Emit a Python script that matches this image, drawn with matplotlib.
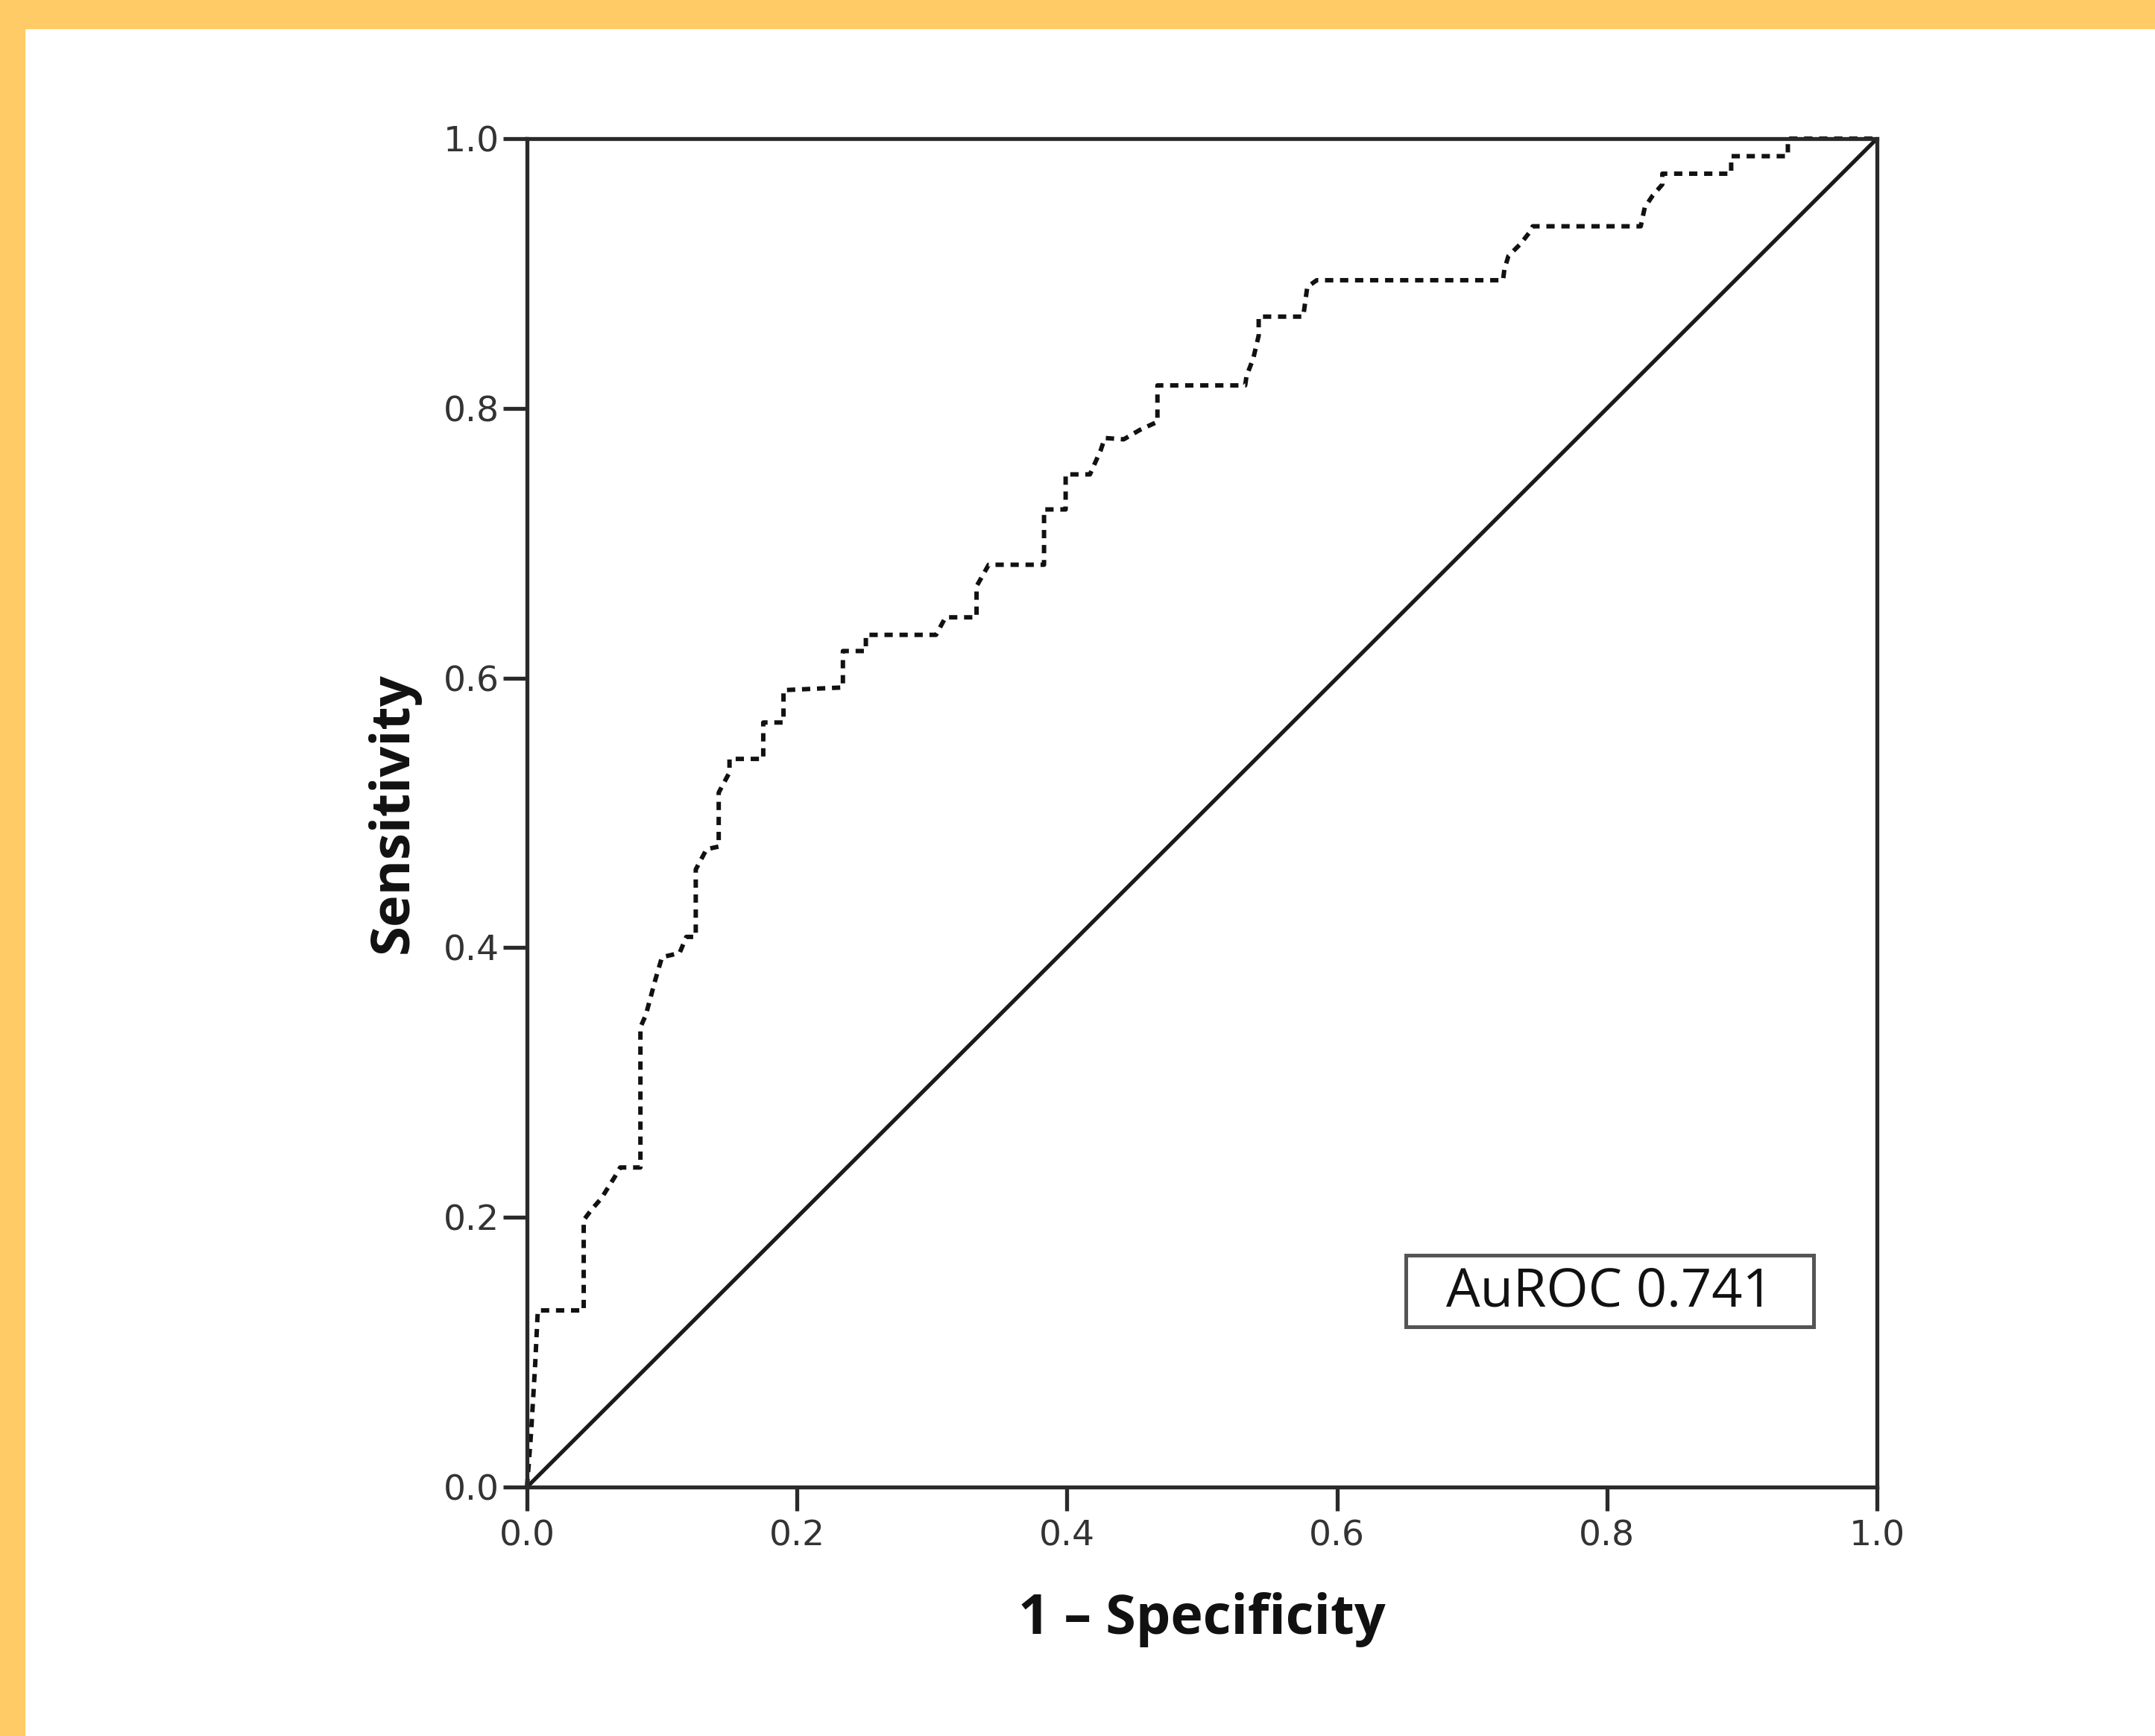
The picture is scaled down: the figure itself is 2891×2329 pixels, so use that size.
import matplotlib
matplotlib.use("Agg")
import matplotlib.pyplot as plt
from matplotlib.patches import Rectangle

# -----------------------------
# DATA
# -----------------------------
fpr = [0.000, 0.003, 0.006, 0.008, 0.042, 0.042, 0.048, 0.055, 0.060, 0.065,
       0.069, 0.084, 0.084, 0.088, 0.095, 0.100, 0.113, 0.118, 0.125, 0.125,
       0.133, 0.142, 0.142, 0.150, 0.150, 0.175, 0.175, 0.190, 0.190, 0.234,
       0.234, 0.251, 0.251, 0.303, 0.310, 0.333, 0.333, 0.342, 0.383, 0.383,
       0.399, 0.399, 0.417, 0.425, 0.428, 0.442, 0.454, 0.467, 0.467, 0.532,
       0.533, 0.538, 0.542, 0.542, 0.575, 0.578, 0.585, 0.723, 0.724, 0.727,
       0.736, 0.743, 0.745, 0.825, 0.828, 0.834, 0.841, 0.841, 0.892, 0.892,
       0.934, 0.934, 1.000]
tpr = [0.000, 0.040, 0.090, 0.131, 0.131, 0.198, 0.206, 0.214, 0.222, 0.230,
       0.237, 0.237, 0.341, 0.350, 0.376, 0.393, 0.396, 0.408, 0.408, 0.458,
       0.473, 0.475, 0.515, 0.530, 0.540, 0.540, 0.567, 0.567, 0.591, 0.593,
       0.620, 0.620, 0.632, 0.632, 0.645, 0.645, 0.668, 0.684, 0.684, 0.725,
       0.725, 0.751, 0.751, 0.769, 0.778, 0.777, 0.784, 0.790, 0.817, 0.817,
       0.824, 0.837, 0.854, 0.868, 0.868, 0.890, 0.895, 0.895, 0.903, 0.913,
       0.922, 0.931, 0.935, 0.935, 0.949, 0.958, 0.966, 0.974, 0.974, 0.987,
       0.987, 1.000, 1.000]
ref_line = [0.0, 1.0]
ticks = [0.0, 0.2, 0.4, 0.6, 0.8, 1.0]
tick_labels = ["0.0", "0.2", "0.4", "0.6", "0.8", "1.0"]
auroc_text = "AuROC 0.741"

# -----------------------------
# FIGURE
# -----------------------------
plt.rcParams['lines.scale_dashes'] = False
W, H, DPI = 2891, 2329, 100
fig = plt.figure(figsize=(W / DPI, H / DPI), dpi=DPI, facecolor="white")

# yellow frame on the left / top
fig.patches.append(Rectangle((0, 0), 33 / W, 1, transform=fig.transFigure,
                             color="#FFCB66", zorder=0))
fig.patches.append(Rectangle((0, 1 - 38 / H), 1, 38 / H, transform=fig.transFigure,
                             color="#FFCB66", zorder=0))

ax = fig.add_axes([707 / W, 334 / H, 1811 / W, 1809 / H])

ax.plot(ref_line, ref_line, color="#1a1a1a", lw=3.8, solid_capstyle="butt")
ax.plot(fpr, tpr, color="#111111", lw=4.3, dashes=(8.0, 6.5), clip_on=False)

ax.set_xlim(0, 1)
ax.set_ylim(0, 1)
ax.set_xticks(ticks)
ax.set_yticks(ticks)
ax.set_xticklabels(tick_labels)
ax.set_yticklabels(tick_labels)

for sp in ax.spines.values():
    sp.set_linewidth(3.8)
    sp.set_color("#2a2a2a")

ax.tick_params(direction="out", length=23, width=3.8, color="#2a2a2a",
               labelsize=34, labelcolor="#333333")
ax.tick_params(axis="x", pad=8)
ax.tick_params(axis="y", pad=4)
for lab in ax.get_xticklabels() + ax.get_yticklabels():
    lab.set_family("DejaVu Sans")

ax.set_xlabel("1 \u2013 Specificity", family="Open Sans", fontweight="bold",
              fontsize=53, labelpad=38, color="#111111")
ax.set_ylabel("Sensitivity", family="Open Sans", fontweight="bold",
              fontsize=52, labelpad=22, color="#111111")

# AuROC box
ax.add_patch(Rectangle((0.651, 0.119), 0.302, 0.053, transform=ax.transAxes,
                       fc="white", ec="#555555", lw=3.6, zorder=3))
ax.text(0.802, 0.1445, auroc_text, transform=ax.transAxes, ha="center", va="center",
        family="Open Sans", fontsize=52, color="#111111", zorder=4)

fig.savefig("out.png", dpi=DPI, facecolor="white")
